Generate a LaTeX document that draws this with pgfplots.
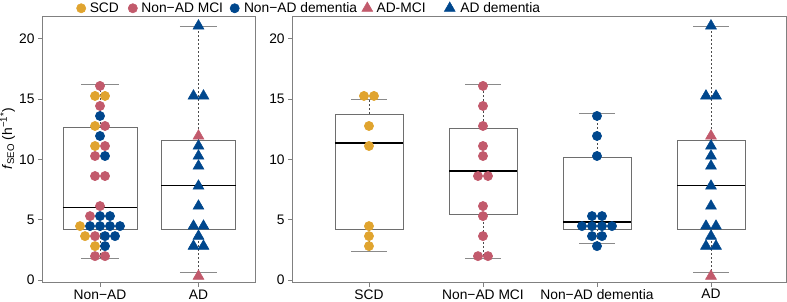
\documentclass[border=0pt]{standalone}
\usepackage{fontspec}
\setmainfont{Liberation Sans}
\usepackage{pgfplots}
\pgfplotsset{compat=1.18}
\usepgfplotslibrary{statistics}
\definecolor{cyel}{HTML}{E0A42F}
\definecolor{cred}{HTML}{C25A6C}
\definecolor{cblu}{HTML}{00478D}
\definecolor{framegray}{HTML}{808080}
\definecolor{boxgray}{HTML}{6E6E6E}
\definecolor{capgray}{HTML}{8A8A8A}
\newcommand{\fs}{\fontsize{13.8}{16}\selectfont}
\pgfplotsset{
  panel/.style={
    scale only axis, height=265.6pt, ymin=-0.19, ymax=21.83,
    axis line style={framegray, line width=0.8pt},
    ytick={0,5,10,15,20},
    tick align=outside, major tick length=4.5pt,
    tick style={framegray, line width=0.8pt},
    xtick pos=bottom, ytick pos=left,
    /pgf/number format/assume math mode=true,
    tick label style={font=\fs, text=black},
    xticklabel style={inner sep=0pt, yshift=-2.5pt},
    clip=false,
  },
  circ/.style={only marks, mark=*, mark size=4.6pt, line width=0.6pt},
  tri/.style={only marks, mark=triangle*, mark size=6.3pt, line width=0.5pt},
  bx/.style={solid, draw=boxgray, line width=0.8pt,
    boxplot/draw direction=y,
    boxplot/every whisker/.style={draw=black!70, line width=0.6pt, dash pattern=on 2pt off 2pt},
    boxplot/every median/.style={draw=black, solid, line width=1.6pt},
    boxplot/whisker extend=0},
  cap/.style={capgray, line width=0.9pt},
}
\begin{document}
\begin{tikzpicture}[font=\fs]
\path[use as bounding box] (0,0) rectangle (787pt,301pt);
% ---------------- left panel ----------------
\begin{axis}[panel, at={(42.5pt,18.7pt)}, anchor=south west,
  width=213.2pt, xmin=0.416, xmax=2.581,
  xtick={1,2}, xticklabels={Non−AD, AD},
  ylabel={\textit{f}\textsubscript{SEO} (h\textsuperscript{−1*})},
  ylabel style={at={(axis description cs:-0.164,0.54)}, anchor=center, font=\fs},
  legend columns=5,
  legend style={at={(axis description cs:0.151,1.0328)}, anchor=west,
    draw=none, fill=none, inner sep=0pt, font=\fs,
    nodes={inner sep=0pt},
    column sep=2.3pt,
    /tikz/column 2/.append style={column sep=7.6pt},
    /tikz/column 4/.append style={column sep=5.3pt},
    /tikz/column 5/.append style={column sep=3pt},
    /tikz/column 6/.append style={column sep=3.9pt},
    /tikz/column 7/.append style={column sep=3pt},
    /tikz/column 8/.append style={column sep=17.9pt},
    /tikz/column 9/.append style={column sep=4.3pt}},
  legend image code/.code={\path (-6pt,0pt) (6pt,0pt); \draw[#1] plot coordinates {(0pt,0pt)};},
]
\addlegendimage{circ, color=cyel}
\addlegendentry{SCD}
\addlegendimage{circ, color=cred}
\addlegendentry{Non−AD MCI}
\addlegendimage{circ, color=cblu}
\addlegendentry{Non−AD dementia}
\addlegendimage{tri, color=cred}
\addlegendentry{AD-MCI}
\addlegendimage{tri, color=cblu}
\addlegendentry{AD dementia}
% boxes
\addplot[bx, boxplot prepared={draw position=1, lower whisker=1.80, lower quartile=4.20,
  median=6.00, upper quartile=12.63, upper whisker=16.25, box extend=0.752}] coordinates {};
\addplot[bx, boxplot prepared={draw position=2, lower whisker=0.61, lower quartile=4.20,
  median=7.82, upper quartile=11.55, upper whisker=21.06, box extend=0.752}] coordinates {};
\addplot[cap] coordinates {(0.81,16.25) (1.19,16.25)};
\addplot[cap] coordinates {(0.81,1.80) (1.19,1.80)};
\addplot[cap] coordinates {(1.81,21.06) (2.19,21.06)};
\addplot[cap] coordinates {(1.81,0.61) (2.19,0.61)};
% points
\addplot[circ, color=cyel] coordinates {(0.9492,15.26) (1.0508,15.26) (0.9492,12.77) (0.9492,11.11) (0.7970,4.47) (0.8477,3.64) (0.9492,2.81)};
\addplot[circ, color=cred] coordinates {(1,16.09) (1,14.43) (1.0508,12.77) (1.0508,11.11) (0.9492,10.28) (0.9492,8.62) (1.0508,8.62) (1,6.13) (0.8985,5.30) (0.9492,3.64) (0.9492,1.98) (1.0508,1.98)};
\addplot[circ, color=cblu] coordinates {(1,13.60) (1,11.94) (1.0508,10.28) (1,5.30) (1.1015,5.30) (0.8985,4.47) (1,4.47) (1.1015,4.47) (1.2030,4.47) (1.0508,3.64) (1.1523,3.64) (1.0508,2.81)};
\addplot[tri, color=cblu] coordinates {(2,21.07) (1.9492,15.26) (2.0508,15.26) (2,11.11) (2,10.28) (2,9.45) (2,7.79) (2,6.13) (1.9492,4.47) (2.0508,4.47) (2,3.64) (1.9492,2.81) (2.0508,2.81)};
\addplot[tri, color=cred] coordinates {(2,11.94) (2,0.32)};
\end{axis}
% ---------------- right panel ----------------
\begin{axis}[panel, at={(292.7pt,18.7pt)}, anchor=south west,
  width=493.3pt, xmin=0.331, xmax=4.658,
  xtick={1,2,3,4}, xticklabels={SCD, Non−AD MCI, Non−AD dementia, AD},
]
\addplot[bx, boxplot prepared={draw position=1, lower whisker=2.40, lower quartile=4.19,
  median=11.37, upper quartile=13.77, upper whisker=14.96, box extend=0.596}] coordinates {};
\addplot[bx, boxplot prepared={draw position=2, lower whisker=1.79, lower quartile=5.44,
  median=9.02, upper quartile=12.56, upper whisker=16.20, box extend=0.596}] coordinates {};
\addplot[bx, boxplot prepared={draw position=3, lower whisker=3.04, lower quartile=4.19,
  median=4.80, upper quartile=10.20, upper whisker=13.80, box extend=0.596}] coordinates {};
\addplot[bx, boxplot prepared={draw position=4, lower whisker=0.61, lower quartile=4.20,
  median=7.82, upper quartile=11.55, upper whisker=21.06, box extend=0.596}] coordinates {};
\addplot[cap] coordinates {(0.844,14.96) (1.156,14.96)};
\addplot[cap] coordinates {(0.844,2.40) (1.156,2.40)};
\addplot[cap] coordinates {(1.844,16.20) (2.156,16.20)};
\addplot[cap] coordinates {(1.844,1.79) (2.156,1.79)};
\addplot[cap] coordinates {(2.844,13.80) (3.156,13.80)};
\addplot[cap] coordinates {(2.844,3.04) (3.156,3.04)};
\addplot[cap] coordinates {(3.844,21.06) (4.156,21.06)};
\addplot[cap] coordinates {(3.844,0.61) (4.156,0.61)};
\addplot[circ, color=cyel] coordinates {(0.9561,15.26) (1.0439,15.26) (1,12.77) (1,11.11) (1,4.47) (1,3.64) (1,2.81)};
\addplot[circ, color=cred] coordinates {(2,16.09) (2,14.43) (2,12.77) (2,11.11) (2,10.28) (1.9561,8.62) (2.0439,8.62) (2,6.13) (2,5.30) (2,3.64) (1.9561,1.98) (2.0439,1.98)};
\addplot[circ, color=cblu] coordinates {(3,13.60) (3,11.94) (3,10.28) (2.9561,5.30) (3.0439,5.30) (2.8684,4.47) (2.9561,4.47) (3.0439,4.47) (3.1316,4.47) (2.9561,3.64) (3.0439,3.64) (3,2.81)};
\addplot[tri, color=cblu] coordinates {(4,21.07) (3.9561,15.26) (4.0439,15.26) (4,11.11) (4,10.28) (4,9.45) (4,7.79) (4,6.13) (3.9561,4.47) (4.0439,4.47) (4,3.64) (3.9561,2.81) (4.0439,2.81)};
\addplot[tri, color=cred] coordinates {(4,11.94) (4,0.32)};
\end{axis}
\end{tikzpicture}
\end{document}
